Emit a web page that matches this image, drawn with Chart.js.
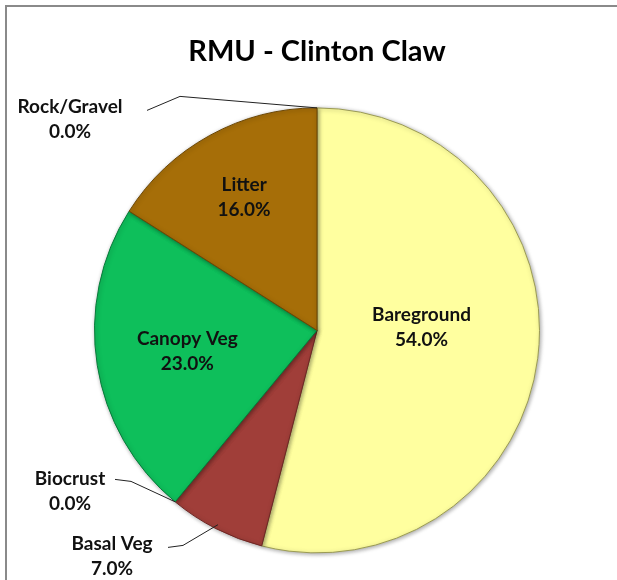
<!DOCTYPE html>
<html>
<head>
<meta charset="utf-8">
<script src="https://cdn.jsdelivr.net/npm/chart.js@4"></script>
<style>
  body { margin: 0; background: #fff; }
  #wrap { position: relative; width: 617px; height: 580px; }
</style>
</head>
<body>
<div id="wrap"><canvas id="chart"></canvas></div>
<script>
const categories = ["Bareground", "Basal Veg", "Biocrust", "Canopy Veg", "Litter", "Rock/Gravel"];
const percents = [54.0, 7.0, 0.0, 23.0, 16.0, 0.0];
const sliceColors = ["#FFFF9F", "#A03E39", "#7F7F7F", "#0EBF5B", "#A66E08", "#8C8C8C"];
const edgeColors = ["#9A9A55", "#6E2623", "#555555", "#087A3A", "#6B4604", "#555555"];

// where each label goes: inside ones by radius fraction / angle nudge,
// outside ones (the 0% slices) with a leader line, offsets from pie centre
const labelPlace = [
  { r: 0.47, da: -9 },
  { out: true, at: 0.98, label: [-205, 226], elbow: [-134, 215], end: [-149, 217] },
  { out: true, at: 1.0, label: [-247, 161], elbow: [-186, 151], end: [-202, 149] },
  { r: 0.59, da: 0 },
  { r: 0.68, da: 0 },
  { out: true, at: 1.0, label: [-247, -211], elbow: [-137, -234], end: [-170, -220] }
];

const frame = {
  id: "frame",
  beforeDraw(chart) {
    const ctx = chart.ctx;
    ctx.save();
    ctx.fillStyle = "#8a8a8a";
    ctx.fillRect(5, 5, 612, 2);
    ctx.fillRect(5, 5, 2, 575);
    ctx.restore();
  }
};

const shadow = {
  id: "shadow",
  beforeDatasetDraw(chart) {
    const ctx = chart.ctx;
    ctx.save();
    ctx.shadowColor = "rgba(0,0,0,0.35)";
    ctx.shadowBlur = 4;
    ctx.shadowOffsetX = 1;
    ctx.shadowOffsetY = 1;
  },
  afterDatasetDraw(chart) {
    chart.ctx.restore();
  }
};

const sliceLabels = {
  id: "sliceLabels",
  afterDatasetsDraw(chart) {
    const ctx = chart.ctx;
    const meta = chart.getDatasetMeta(0);
    ctx.save();
    ctx.font = "bold 19px Lato";
    ctx.fillStyle = "#111";
    ctx.textAlign = "center";
    ctx.textBaseline = "middle";
    meta.data.forEach((arc, i) => {
      const p = arc.getProps(["x", "y", "startAngle", "endAngle", "outerRadius"], true);
      const mid = (p.startAngle + p.endAngle) / 2;
      const place = labelPlace[i];
      const text = [categories[i], percents[i].toFixed(1) + "%"];
      let lx, ly;
      if (place.out) {
        const ax = p.x + Math.cos(mid) * p.outerRadius * place.at;
        const ay = p.y + Math.sin(mid) * p.outerRadius * place.at;
        ctx.strokeStyle = "#222";
        ctx.lineWidth = 1;
        ctx.beginPath();
        ctx.moveTo(ax, ay);
        ctx.lineTo(p.x + place.elbow[0], p.y + place.elbow[1]);
        ctx.lineTo(p.x + place.end[0], p.y + place.end[1]);
        ctx.stroke();
        lx = p.x + place.label[0];
        ly = p.y + place.label[1];
      } else {
        const a = mid + place.da * Math.PI / 180;
        lx = p.x + Math.cos(a) * p.outerRadius * place.r;
        ly = p.y + Math.sin(a) * p.outerRadius * place.r;
      }
      ctx.fillText(text[0], lx, ly - 12.5);
      ctx.fillText(text[1], lx, ly + 12.5);
    });
    ctx.restore();
  }
};

new Chart(document.getElementById("chart"), {
  type: "pie",
  data: {
    labels: categories,
    datasets: [{
      data: percents,
      backgroundColor: sliceColors,
      borderColor: edgeColors,
      borderWidth: 1
    }]
  },
  options: {
    responsive: true,
    maintainAspectRatio: false,
    animation: false,
    layout: { padding: { left: 94, right: 77, top: 0, bottom: 26 } },
    plugins: {
      legend: { display: false },
      tooltip: { enabled: false },
      title: {
        display: true,
        text: "RMU - Clinton Claw",
        color: "#000",
        font: { family: "Lato", size: 29, weight: "bold" },
        padding: { top: 34, bottom: 38 }
      }
    }
  },
  plugins: [frame, shadow, sliceLabels]
});
</script>
</body>
</html>
